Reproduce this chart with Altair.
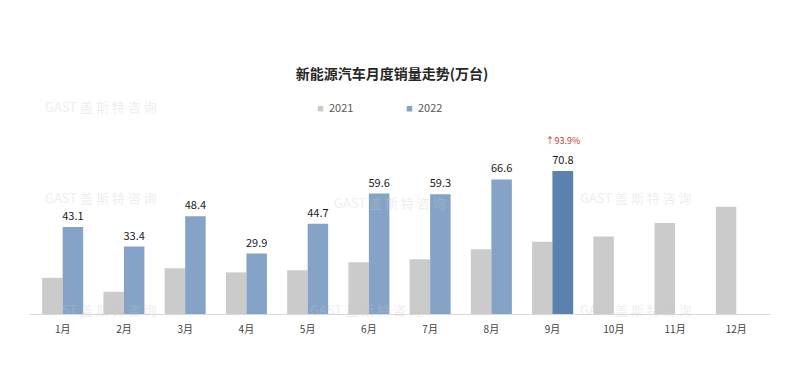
import altair as alt
import pandas as pd

months = ["1月", "2月", "3月", "4月", "5月", "6月", "7月", "8月", "9月", "10月", "11月", "12月"]
sales_2021 = [17.9, 11.0, 22.6, 20.6, 21.7, 25.6, 27.1, 32.1, 35.7, 38.3, 45.0, 53.1]
sales_2022 = [43.1, 33.4, 48.4, 29.9, 44.7, 59.6, 59.3, 66.6, 70.8]
series = ["2021", "2022"]
highlight_month = "9月"
growth_text = "↑93.9%"
title_text = "新能源汽车月度销量走势(万台)"
watermark = "GAST  盖 斯 特 咨 询"

rows = []
for m, v in zip(months, sales_2021):
    rows.append({"month": m, "series": "2021", "value": v})
for m, v in zip(months, sales_2022):
    rows.append({"month": m, "series": "2022", "value": v})
df = pd.DataFrame(rows)
df22 = df[df.series == "2022"].copy()
df_hl = df22[df22.month == highlight_month].copy()
df_hl["note"] = growth_text

FONT = "Noto Sans CJK SC"
W, H = 741, 274
LEFT, TOP = 29, 40

x_enc = alt.X("month:N", sort=months, scale=alt.Scale(paddingInner=0.33, paddingOuter=0.215),
              axis=alt.Axis(title=None, labelAngle=0, ticks=False, domainColor="#D9D9D9",
                            domainWidth=1, labelFontSize=10, labelColor="#404040",
                            labelFont=FONT, labelPadding=10))
y_enc = alt.Y("value:Q", scale=alt.Scale(domain=[0, 135.6], nice=False), axis=None)
xoff = alt.XOffset("series:N", scale=alt.Scale(domain=series, paddingInner=0))

bars = alt.Chart(df).mark_bar().encode(
    x=x_enc, y=y_enc, xOffset=xoff,
    color=alt.Color("series:N", scale=alt.Scale(domain=series, range=["#CBCBCB", "#84A3C7"]),
                    legend=alt.Legend(title=None, orient="none", legendX=286, legendY=63,
                                      direction="horizontal", symbolType="square", symbolSize=30,
                                      labelFontSize=11, labelColor="#595959", labelFont=FONT,
                                      columnPadding=50, labelOffset=3)),
)

hl_bar = alt.Chart(df_hl).mark_bar(color="#5B82AE").encode(x=x_enc, y=y_enc, xOffset=xoff)

labels = alt.Chart(df22).mark_text(dy=-10, fontSize=11, color="#1a1a1a", font=FONT).encode(
    x=x_enc, y=y_enc, xOffset=xoff, text=alt.Text("value:Q", format=".1f"))

note = alt.Chart(df_hl).mark_text(dy=-30, fontSize=9, color="#C0392B", font=FONT).encode(
    x=x_enc, y=y_enc, xOffset=xoff, text="note:N")

title = alt.Chart(pd.DataFrame({"t": [title_text]})).mark_text(
    fontSize=14, fontWeight="bold", color="#262626", font=FONT).encode(
    x=alt.value(400 - 8 - LEFT), y=alt.value(75 - 8 - TOP + 8), text="t:N")

wm_pos = pd.DataFrame({
    "px": [45, 45, 334, 580, 45, 310, 580],
    "py": [108, 199, 204, 199, 311, 311, 311],
})
wm_pos["px"] = wm_pos["px"] - 8 - LEFT + 8
wm_pos["py"] = wm_pos["py"] - 8 - TOP + 8
wm_pos["t"] = watermark
wm = alt.Chart(wm_pos).mark_text(align="left", baseline="middle", fontSize=13, color="#C8C8C8",
                                 opacity=0.3, font=FONT).encode(
    x=alt.X("px:Q", scale=None), y=alt.Y("py:Q", scale=None), text="t:N")

chart = alt.layer(bars, hl_bar, labels, note, title, wm).properties(
    width=W, height=H, padding={"left": LEFT - 8, "top": TOP - 8, "right": 10, "bottom": 20}
).configure(background="white").configure_view(stroke=None)

chart.save("out.html", embed_options={"renderer": "svg", "actions": False})
